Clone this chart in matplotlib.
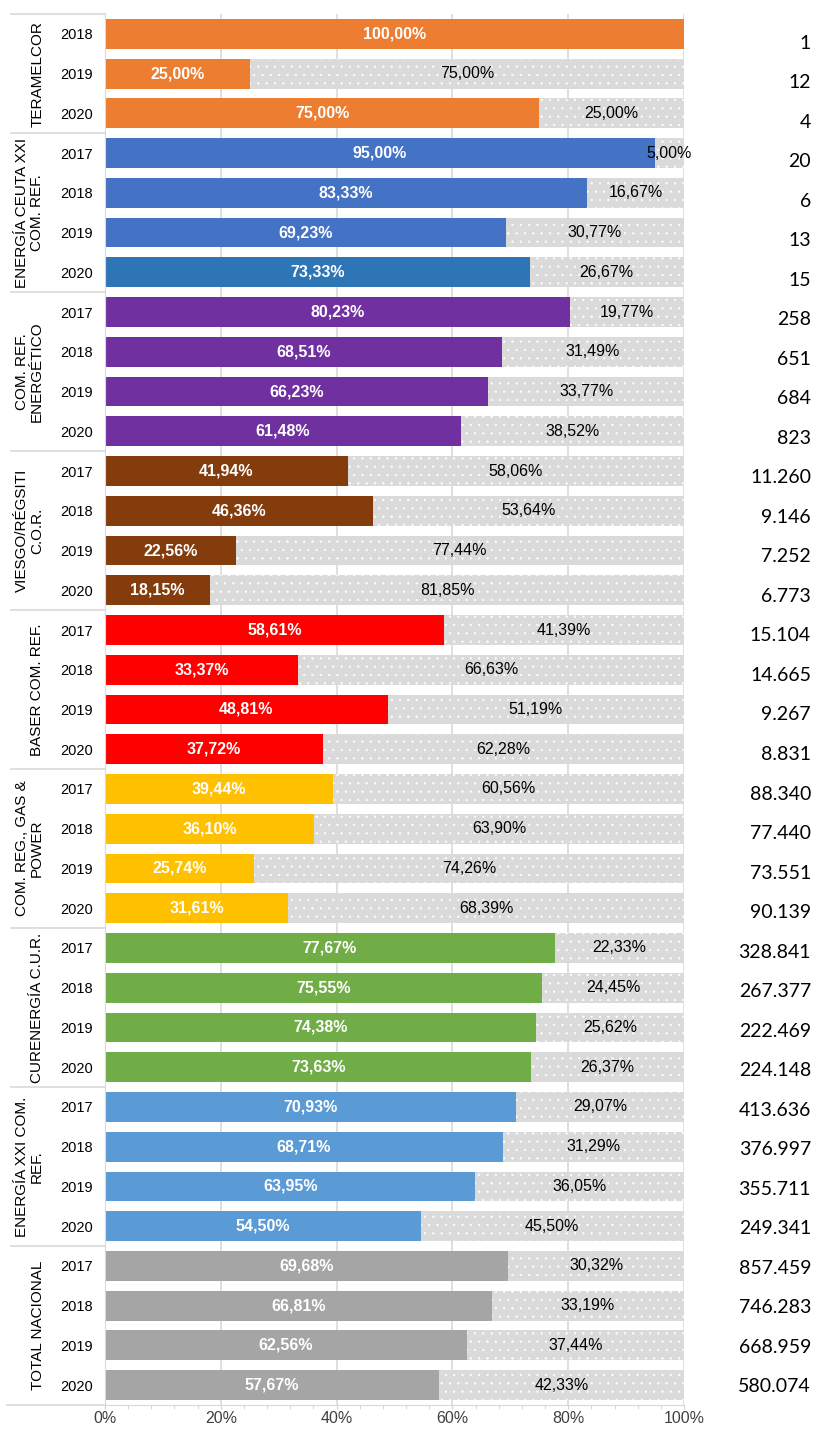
import matplotlib
matplotlib.use("Agg")
import matplotlib.pyplot as plt
import numpy as np

plt.rcParams['font.family'] = ['Liberation Sans', 'DejaVu Sans']
plt.rcParams['hatch.linewidth'] = 0.4

groups = ['TERAMELCOR', 'ENERGÍA CEUTA XXI\nCOM. REF.', 'COM. REF.\nENERGÉTICO',
          'VIESGO/RÉGSITI\nC.O.R.', 'BASER COM. REF.', 'COM. REG., GAS &\nPOWER',
          'CURENERGÍA C.U.R.', 'ENERGÍA XXI COM.\nREF.', 'TOTAL NACIONAL']
group_years = [
    ['2018', '2019', '2020'],
    ['2017', '2018', '2019', '2020'],
    ['2017', '2018', '2019', '2020'],
    ['2017', '2018', '2019', '2020'],
    ['2017', '2018', '2019', '2020'],
    ['2017', '2018', '2019', '2020'],
    ['2017', '2018', '2019', '2020'],
    ['2017', '2018', '2019', '2020'],
    ['2017', '2018', '2019', '2020'],
]
share = [
    [100.00, 25.00, 75.00],
    [95.00, 83.33, 69.23, 73.33],
    [80.23, 68.51, 66.23, 61.48],
    [41.94, 46.36, 22.56, 18.15],
    [58.61, 33.37, 48.81, 37.72],
    [39.44, 36.10, 25.74, 31.61],
    [77.67, 75.55, 74.38, 73.63],
    [70.93, 68.71, 63.95, 54.50],
    [69.68, 66.81, 62.56, 57.67],
]
totals = [
    ['1', '12', '4'],
    ['20', '6', '13', '15'],
    ['258', '651', '684', '823'],
    ['11.260', '9.146', '7.252', '6.773'],
    ['15.104', '14.665', '9.267', '8.831'],
    ['88.340', '77.440', '73.551', '90.139'],
    ['328.841', '267.377', '222.469', '224.148'],
    ['413.636', '376.997', '355.711', '249.341'],
    ['857.459', '746.283', '668.959', '580.074'],
]
group_colors = [
    ['#ED7D31'] * 3,
    ['#4472C4', '#4472C4', '#4472C4', '#2E75B6'],
    ['#7030A0'] * 4,
    ['#843C0C'] * 4,
    ['#FF0000'] * 4,
    ['#FFC000'] * 4,
    ['#70AD47'] * 4,
    ['#5B9BD5'] * 4,
    ['#A5A5A5'] * 4,
]

years = [y for g in group_years for y in g]
vals = np.array([v for g in share for v in g])
tots = [t for g in totals for t in g]
cols = [c for g in group_colors for c in g]
n = len(vals)
rows = np.arange(n)

W, H = 813, 1430
fig = plt.figure(figsize=(W / 100, H / 100), dpi=100)
ax = fig.add_axes([105 / W, 1 - 1405 / H, 579 / W, 1391 / H])

ax.barh(rows, vals, height=0.75, color=cols, zorder=2)
ax.barh(rows, 100 - vals, left=vals, height=0.75, color='#dadada',
        edgecolor='white', linewidth=0, hatch='..', zorder=2)

def fmt(v):
    return f'{v:.2f}'.replace('.', ',') + '%'

for i, v in enumerate(vals):
    ax.text(v / 2, i, fmt(v), ha='center', va='center', color='white',
            fontsize=11.5, fontweight='bold', zorder=3)
    if v < 100:
        ax.text(v + (100 - v) / 2, i, fmt(100 - v), ha='center', va='center',
                color='black', fontsize=11.5, zorder=3)

ax.set_xlim(0, 100)
ax.set_ylim(n - 0.5, -0.5)
ax.set_xticks(np.arange(0, 101, 20))
ax.set_xticks(np.arange(0, 101, 4), minor=True)
ax.set_xticklabels([f'{t}%' for t in range(0, 101, 20)], fontsize=11.5, color='#404040')
ax.tick_params(axis='x', which='both', length=3, color='#d0d0d0', pad=1.5)
ax.set_yticks(rows)
ax.set_yticklabels(years, fontsize=10.5)
ax.tick_params(axis='y', length=0, pad=9)
ax.xaxis.grid(True, color='#d9d9d9', linewidth=1.2, zorder=0)
ax.set_axisbelow(True)
for s in ['top', 'right']:
    ax.spines[s].set_visible(False)
ax.spines['left'].set_color('#d9d9d9')
ax.spines['bottom'].set_color('#d9d9d9')

# group separators and labels on the left
tr = ax.get_yaxis_transform()
start = 0
bounds = [-0.5]
for g, yrs in zip(groups, group_years):
    end = start + len(yrs)
    bounds.append(end - 0.5)
    xpx = 29.5 if '\n' in g else 37.5
    ax.text((xpx - 105) / 579, (start + end - 1) / 2, g, transform=tr, rotation=90,
            ha='center', va='center', multialignment='center', fontsize=11,
            linespacing=1.1)
    start = end
for b in bounds:
    x0 = -0.169 if b == bounds[-1] else -0.162
    ax.plot([x0, 0], [b, b], transform=tr, color='#d9d9d9', lw=1.2, clip_on=False)

# totals column on the right
axr = fig.add_axes([700 / W, 1 - 1406.75 / H, 111 / W, 1383.5 / H])
axr.set_xlim(0, 1)
axr.set_ylim(n - 0.5, -0.5)
axr.axis('off')
for i, t in enumerate(tots):
    axr.text(1, i, t, ha='right', va='center', fontsize=14, family=['Lato', 'DejaVu Sans'])

fig.savefig('out.png', dpi=100)
